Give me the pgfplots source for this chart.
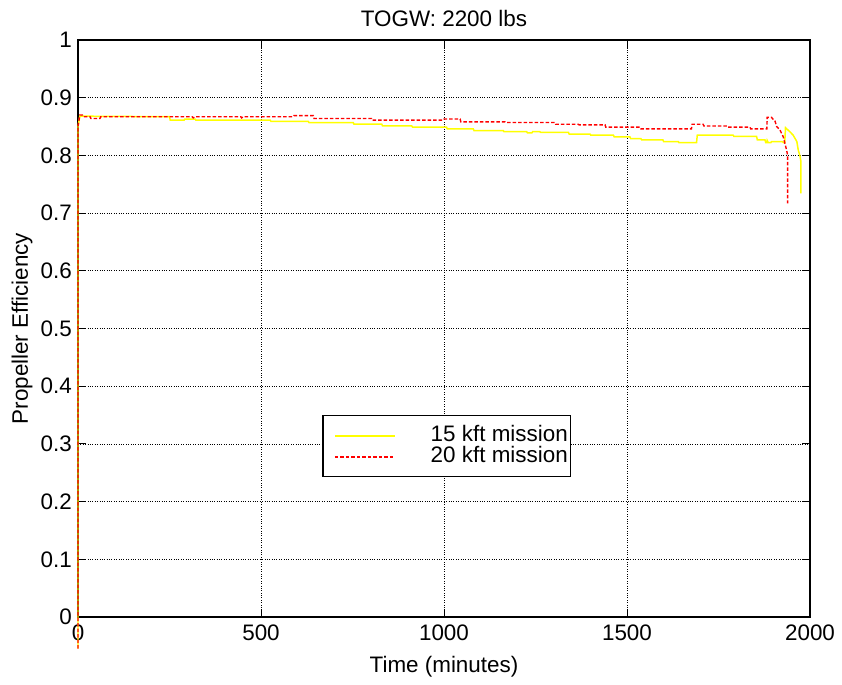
\documentclass[border=0pt]{standalone}
\usepackage{pgfplots}
\pgfplotsset{compat=1.18}
\usepackage{fontspec}
\setmainfont{Liberation Sans}
\newcommand{\chfont}{\fontsize{22.5}{26}\selectfont}
\definecolor{myyellow}{RGB}{255,255,0}
\begin{document}
\begin{tikzpicture}
\begin{axis}[
  scale only axis,
  width=732bp, height=577bp,
  xmin=0, xmax=2000, ymin=0, ymax=1,
  xtick={0,500,1000,1500,2000},
  ytick={0,0.1,0.2,0.3,0.4,0.5,0.6,0.7,0.8,0.9,1},
  yticklabels={0,0.1,0.2,0.3,0.4,0.5,0.6,0.7,0.8,0.9,1},
  /pgf/number format/assume math mode=true,
  /pgf/number format/1000 sep={},
  ticklabel style={font=\chfont, inner sep=3bp},
  xticklabel style={yshift=-5bp},
  yticklabel style={xshift=-3bp},
  tick align=inside,
  major tick length=8bp,
  tick style={black, line width=0.8pt},
  axis line style={black, line width=1.5pt},
  grid=major,
  major grid style={black, dotted, line width=0.6pt},
  xlabel={Time (minutes)},
  ylabel={Propeller Efficiency},
  title={TOGW: 2200 lbs},
  every axis x label/.style={at={(axis description cs:0.5,-0.086)}, anchor=center, font=\chfont},
  every axis y label/.style={at={(axis description cs:-0.0765,0.5)}, anchor=center, rotate=90, font=\chfont},
  every axis title/.style={at={(axis description cs:0.5,1.037)}, anchor=center, font=\chfont},
  clip=false,
  legend style={at={(rel axis cs:0.334,0.350)}, anchor=north west, draw=black, line width=1.2pt, fill=white,
    font=\chfont, inner xsep=1bp, inner ysep=9.5bp, row sep=0bp, column sep=33bp,
    nodes={inner sep=2bp, text height=14bp, text depth=3bp}},
  legend image code/.code={\path (0bp,-2bp) (0bp,2bp); \draw[#1, line width=1.8pt] (10bp,0bp) -- (70bp,0bp);},
  legend cell align=right,
]
\coordinate (O) at (rel axis cs:0,0);
\coordinate (E) at (rel axis cs:1,1);
\addplot[draw=myyellow, line width=1.5pt] coordinates {
(0,-0.055) (0,0.85) (5,0.868) (250,0.867) (252,0.861) (290,0.861) (292,0.863) (320,0.863) (322,0.861)
(525,0.861) (527,0.859) (629,0.859) (631,0.857) (752,0.857) (754,0.854) (830,0.854) (832,0.851)
(912,0.851) (914,0.849) (1007,0.849) (1009,0.846) (1080,0.846) (1082,0.843) (1162,0.843) (1164,0.841)
(1226,0.841) (1228,0.839) (1240,0.839) (1242,0.841) (1262,0.841) (1264,0.840) (1340,0.840) (1342,0.837)
(1399,0.837) (1401,0.835) (1463,0.835) (1465,0.832) (1508,0.832) (1510,0.829) (1538,0.829) (1540,0.827)
(1598,0.827) (1600,0.824) (1640,0.824) (1642,0.822) (1690,0.822) (1692,0.835) (1790,0.835) (1792,0.833)
(1854,0.833) (1856,0.827) (1877,0.827) (1879,0.822) (1882,0.822) (1883,0.826) (1886,0.822) (1893,0.822)
(1895,0.824) (1925,0.824) (1927,0.822) (1931,0.822) (1933,0.848) (1945,0.841) (1954,0.835) (1964,0.824)
(1968,0.809) (1973,0.798) (1975,0.790) (1975,0.734)
};
\addlegendentry{15 kft mission}
\addplot[draw=red, line width=1.4pt, dash pattern=on 3.5bp off 2bp] coordinates {
(0,-0.055) (0,0.85) (5,0.870) (12,0.870) (14,0.867) (33,0.867) (35,0.864) (60,0.864) (62,0.867)
(312,0.867) (315,0.865) (320,0.867) (445,0.867) (447,0.865) (452,0.867) (588,0.867) (590,0.869)
(643,0.869) (645,0.864) (802,0.864) (804,0.861) (998,0.861) (1000,0.863) (1044,0.863) (1046,0.858)
(1167,0.858) (1169,0.857) (1303,0.857) (1305,0.854) (1367,0.854) (1369,0.853) (1440,0.853) (1442,0.849)
(1536,0.849) (1538,0.846) (1676,0.846) (1678,0.854) (1708,0.854) (1710,0.851) (1773,0.851) (1775,0.849)
(1836,0.849) (1838,0.846) (1882,0.846) (1883,0.866) (1895,0.866) (1897,0.864) (1904,0.860) (1909,0.850)
(1918,0.844) (1927,0.832) (1936,0.809) (1939,0.800) (1939,0.717)
};
\addlegendentry{20 kft mission}
\end{axis}
\pgfresetboundingbox
\path[use as bounding box] ([shift={(-78bp,-68bp)}]O) rectangle ([shift={(32bp,40bp)}]E);
\end{tikzpicture}
\end{document}
